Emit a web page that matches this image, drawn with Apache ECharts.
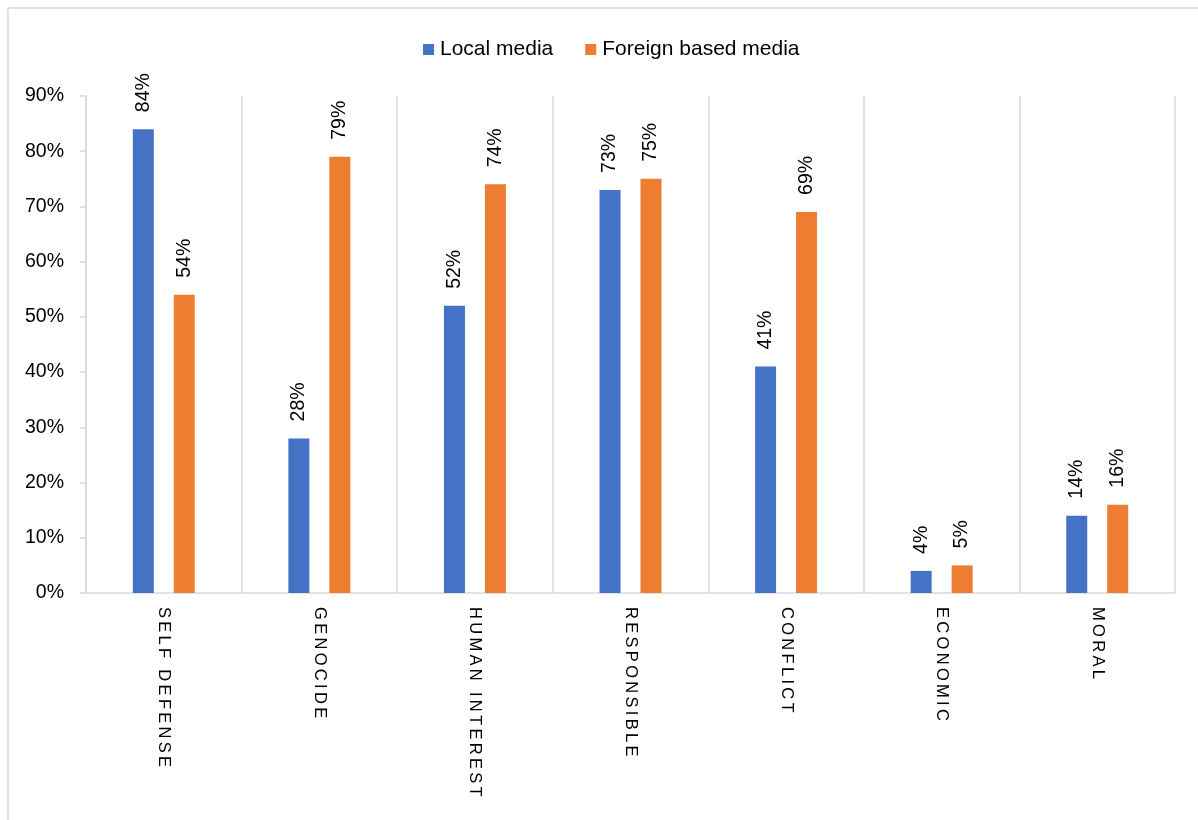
<!DOCTYPE html>
<html>
<head>
<meta charset="utf-8">
<script src="https://cdn.jsdelivr.net/npm/echarts@6/dist/echarts.min.js"></script>
<style>
html,body{margin:0;padding:0;background:#fff;}
#main{width:1198px;height:820px;}
</style>
</head>
<body>
<div id="main"></div>
<script>
const categories = ['SELF DEFENSE', 'GENOCIDE', 'HUMAN INTEREST', 'RESPONSIBLE', 'CONFLICT', 'ECONOMIC', 'MORAL'];
const localMedia = [84, 28, 52, 73, 41, 4, 14];
const foreignMedia = [54, 79, 74, 75, 69, 5, 16];
const seriesNames = ['Local media', 'Foreign based media'];
const yTicks = [0, 10, 20, 30, 40, 50, 60, 70, 80, 90];

const FONT = '"Liberation Sans", Arial, sans-serif';
const chart = echarts.init(document.getElementById('main'));

const labelCfg = {
  show: true,
  position: 'top',
  rotate: 90,
  align: 'left',
  verticalAlign: 'middle',
  distance: 17,
  formatter: p => p.value + '%',
  fontSize: 19.5,
  fontFamily: FONT,
  color: '#000'
};

chart.setOption({
  backgroundColor: '#fff',
  animation: false,
  graphic: [{
    type: 'rect',
    shape: {x: 8, y: 8, width: 1200, height: 830},
    style: {fill: 'none', stroke: '#d9d9d9', lineWidth: 1.5},
    silent: true
  }],
  legend: {
    top: 34,
    left: 418,
    itemWidth: 11,
    itemHeight: 11,
    itemGap: 32,
    icon: 'rect',
    textStyle: {fontSize: 21, fontFamily: FONT, color: '#000', padding: [0, 0, 0, 1]},
    data: seriesNames
  },
  grid: {left: 86, right: 23, top: 96, bottom: 227, containLabel: false},
  xAxis: {
    type: 'category',
    data: categories,
    axisLine: {show: true, lineStyle: {color: '#d9d9d9', width: 1.5}},
    axisTick: {show: false},
    splitLine: {show: true, lineStyle: {color: '#d9d9d9', width: 1.5}},
    axisLabel: {
      rotate: -90,
      margin: 14,
      fontSize: 16.5,
      fontFamily: FONT,
      color: '#000',
      interval: 0,
      formatter: v => v.split('').join('\u2009')
    }
  },
  yAxis: {
    type: 'value',
    min: 0,
    max: yTicks[yTicks.length - 1],
    interval: 10,
    axisLine: {show: true, lineStyle: {color: '#d9d9d9', width: 1.5}},
    axisTick: {show: true, length: 6, lineStyle: {color: '#d9d9d9', width: 1.5}},
    splitLine: {show: false},
    axisLabel: {
      margin: 22,
      fontSize: 19.5,
      fontFamily: FONT,
      color: '#000',
      formatter: v => v + '%'
    }
  },
  series: [
    {
      name: seriesNames[0],
      type: 'bar',
      data: localMedia,
      barWidth: 21,
      barGap: '95%',
      itemStyle: {color: '#4472C4'},
      label: labelCfg
    },
    {
      name: seriesNames[1],
      type: 'bar',
      data: foreignMedia,
      barWidth: 21,
      barGap: '95%',
      itemStyle: {color: '#ED7D31'},
      label: labelCfg
    }
  ]
});
</script>
</body>
</html>
